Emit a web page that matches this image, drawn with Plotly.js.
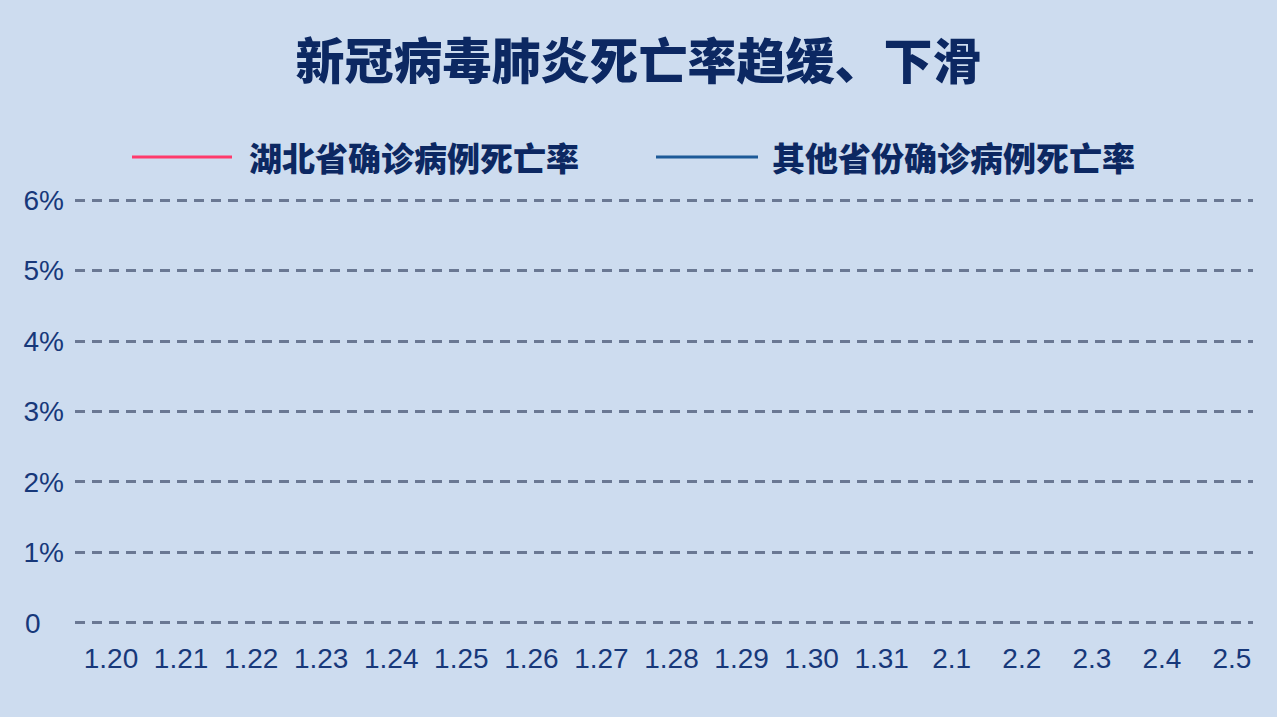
<!DOCTYPE html>
<html>
<head>
<meta charset="utf-8">
<script src="https://cdn.plot.ly/plotly-3.0.1.min.js"></script>
<style>
  html, body { margin: 0; padding: 0; background: #cddcef; }
  #chart { width: 1277px; height: 717px; }
</style>
</head>
<body>
<div id="chart"></div>
<script>
// dates on the x axis
var dates = ['1.20', '1.21', '1.22', '1.23', '1.24', '1.25', '1.26', '1.27', '1.28',
             '1.29', '1.30', '1.31', '2.1', '2.2', '2.3', '2.4', '2.5'];

// death rate series (no line is visible in the picture yet)
var hubeiRate = [null, null, null, null, null, null, null, null, null,
                 null, null, null, null, null, null, null, null];
var otherRate = [null, null, null, null, null, null, null, null, null,
                 null, null, null, null, null, null, null, null];

var seriesNames = ['湖北省确诊病例死亡率', '其他省份确诊病例死亡率'];
var seriesColors = ['#ff3a6c', '#1d5a98'];

var yTickVals = [0, 1, 2, 3, 4, 5, 6];
var yTickText = ['0\u00a0\u00a0\u00a0', '1%', '2%', '3%', '4%', '5%', '6%'];

var navy = '#0c2862';
var labelFont = { family: 'Liberation Sans, Arial, sans-serif', size: 28, color: '#17387a' };
var cjkBold = 'Noto Sans CJK SC, sans-serif';

var margin = { l: 75, r: 24, t: 198, b: 92 };
var plotW = 1277 - margin.l - margin.r;
var plotH = 717 - margin.t - margin.b;

// pixel position on the page -> paper fraction of the plot area
function px(x) { return (x - margin.l) / plotW; }
function py(y) { return (717 - margin.b - y) / plotH; }

window.addEventListener('load', function()
{
    var traces = [
        { x: dates, y: hubeiRate, type: 'scatter', mode: 'lines', name: seriesNames[0],
          line: { color: seriesColors[0], width: 3 }, showlegend: false },
        { x: dates, y: otherRate, type: 'scatter', mode: 'lines', name: seriesNames[1],
          line: { color: seriesColors[1], width: 3 }, showlegend: false }
    ];

    // legend drawn by hand so the sample lines can be long
    var legendLine = [[132, 232], [656, 758]];
    var legendText = [247, 770];
    var legendY = 157;
    var shapes = [], annotations = [];
    for (var i = 0; i < seriesNames.length; i++) {
        shapes.push({ type: 'line', xref: 'paper', yref: 'paper', layer: 'above',
            x0: px(legendLine[i][0]), x1: px(legendLine[i][1]),
            y0: py(legendY), y1: py(legendY),
            line: { color: seriesColors[i], width: 3 } });
        annotations.push({ xref: 'paper', yref: 'paper', showarrow: false,
            x: px(legendText[i]), y: py(legendY),
            xanchor: 'left', yanchor: 'middle', text: seriesNames[i],
            font: { family: cjkBold, size: 33, weight: 900, color: navy } });
    }

    var layout = {
        width: 1277,
        height: 717,
        paper_bgcolor: '#cddcef',
        plot_bgcolor: 'rgba(0,0,0,0)',
        margin: margin,
        title: {
            text: '新冠病毒肺炎死亡率趋缓、下滑',
            font: { family: cjkBold, size: 49, weight: 900, color: navy },
            x: 0.5, xanchor: 'center', y: 1 - 62 / 717, yanchor: 'middle'
        },
        xaxis: {
            type: 'category',
            range: [-0.514, 16.3],
            showgrid: false, zeroline: false, showline: false,
            ticks: '', tickfont: labelFont, ticklabelstandoff: 14
        },
        yaxis: {
            range: [-0.03, 6.03],
            tickvals: yTickVals, ticktext: yTickText,
            showgrid: true, gridcolor: '#6a7893', gridwidth: 3, griddash: '10px,7px',
            zeroline: false, showline: false,
            ticks: '', tickfont: labelFont, ticklabelstandoff: 10
        },
        shapes: shapes,
        annotations: annotations,
        showlegend: false
    };

    Plotly.newPlot('chart', traces, layout, { displayModeBar: false, staticPlot: true });
});
</script>
</body>
</html>
